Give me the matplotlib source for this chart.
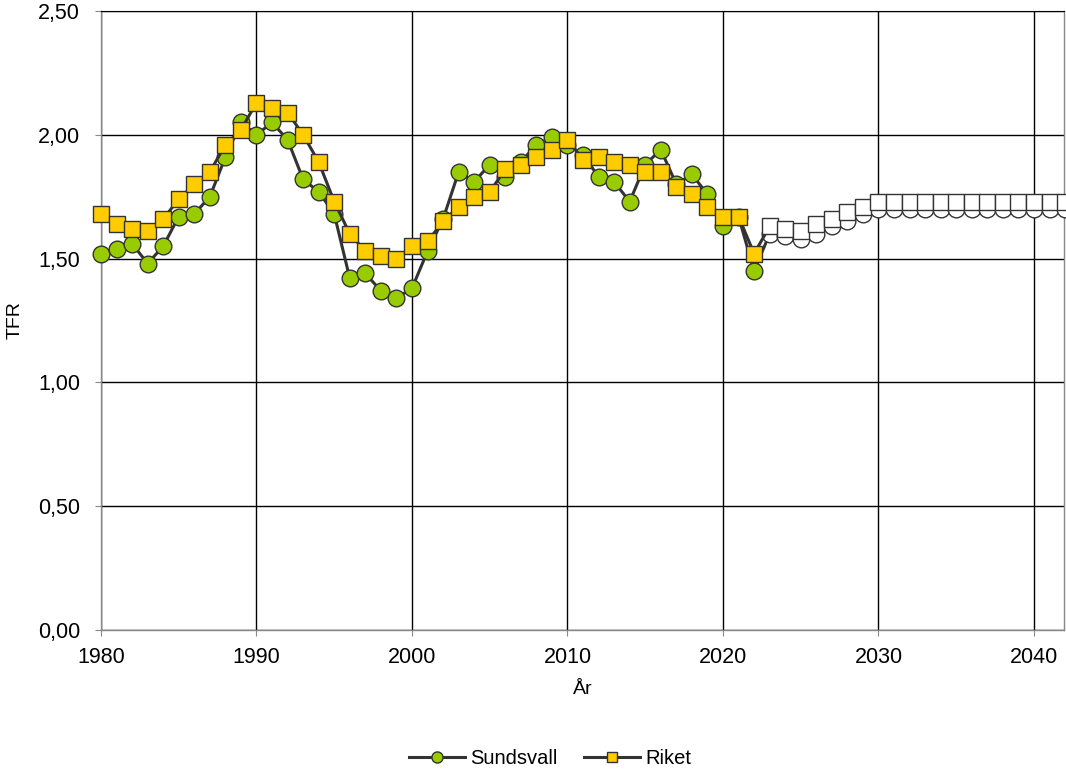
import matplotlib
matplotlib.use("Agg")
import matplotlib.pyplot as plt
from matplotlib.lines import Line2D
from matplotlib.ticker import FuncFormatter, MultipleLocator

# Observed years and forecast years
hist_years = list(range(1980, 2023))
fc_years = list(range(2023, 2043))

sundsvall_hist = [
    1.52, 1.54, 1.56, 1.48, 1.55, 1.67, 1.68, 1.75, 1.91, 2.05,
    2.00, 2.05, 1.98, 1.82, 1.77, 1.68, 1.42, 1.44, 1.37, 1.34,
    1.38, 1.53, 1.66, 1.85, 1.81, 1.88, 1.83, 1.89, 1.96, 1.99,
    1.96, 1.92, 1.83, 1.81, 1.73, 1.88, 1.94, 1.80, 1.84, 1.76,
    1.63, 1.67, 1.45,
]
riket_hist = [
    1.68, 1.64, 1.62, 1.61, 1.66, 1.74, 1.80, 1.85, 1.96, 2.02,
    2.13, 2.11, 2.09, 2.00, 1.89, 1.73, 1.60, 1.53, 1.51, 1.50,
    1.55, 1.57, 1.65, 1.71, 1.75, 1.77, 1.86, 1.88, 1.91, 1.94,
    1.98, 1.90, 1.91, 1.89, 1.88, 1.85, 1.85, 1.79, 1.76, 1.71,
    1.67, 1.67, 1.52,
]
sundsvall_fc = [
    1.60, 1.59, 1.58, 1.60, 1.63, 1.65, 1.68, 1.70, 1.70, 1.70,
    1.70, 1.70, 1.70, 1.70, 1.70, 1.70, 1.70, 1.70, 1.70, 1.70,
]
riket_fc = [
    1.63, 1.62, 1.61, 1.64, 1.66, 1.69, 1.71, 1.73, 1.73, 1.73,
    1.73, 1.73, 1.73, 1.73, 1.73, 1.73, 1.73, 1.73, 1.73, 1.73,
]

GREEN = "#99CC00"
YELLOW = "#FFCC00"
DARK = "#333333"

plt.rcParams["font.family"] = ["Liberation Sans", "DejaVu Sans"]

fig = plt.figure(figsize=(10.66, 7.72), dpi=100)
ax = fig.add_axes([101 / 1066, 142 / 772, 963 / 1066, 619 / 772])

all_years = hist_years + fc_years


def draw_series(hist, fc, marker, color):
    ax.plot(all_years, hist + fc, color=DARK, linewidth=2.2, zorder=3, clip_on=False)
    ax.plot(hist_years, hist, linestyle="none", marker=marker, markersize=12,
            markerfacecolor=color, markeredgecolor=DARK, markeredgewidth=1.0,
            zorder=3, clip_on=False)
    ax.plot(fc_years, fc, linestyle="none", marker=marker, markersize=12,
            markerfacecolor="white", markeredgecolor=DARK, markeredgewidth=1.0,
            zorder=3, clip_on=False)


draw_series(sundsvall_hist, sundsvall_fc, "o", GREEN)
draw_series(riket_hist, riket_fc, "s", YELLOW)

ax.set_xlim(1980, 2041.93)
ax.set_ylim(0, 2.5)
ax.xaxis.set_major_locator(MultipleLocator(10))
ax.yaxis.set_major_locator(MultipleLocator(0.5))
ax.yaxis.set_major_formatter(FuncFormatter(lambda v, p: f"{v:.2f}".replace(".", ",")))

ax.grid(True, color="black", linewidth=1.0)
ax.set_axisbelow(True)
for side in ["left", "bottom", "right"]:
    ax.spines[side].set_color("#888888")
    ax.spines[side].set_linewidth(1.0)
ax.spines["top"].set_color("black")

ax.tick_params(axis="y", direction="out", length=4.5, color="#888888",
               labelsize=15.5, pad=10.5)
ax.tick_params(axis="x", direction="out", length=4, color="#888888",
               labelsize=15.5, pad=8)

fig.text(583 / 1066, 1 - 690 / 772, "År", ha="center", va="center", fontsize=14)
fig.text(15 / 1066, 1 - 320 / 772, "TFR", ha="center", va="center",
         rotation=90, fontsize=14)

handles = [
    Line2D([], [], color=DARK, linewidth=2.2, marker="o", markersize=8,
           markerfacecolor=GREEN, markeredgecolor=DARK, markeredgewidth=1.0),
    Line2D([], [], color=DARK, linewidth=2.2, marker="s", markersize=7.5,
           markerfacecolor=YELLOW, markeredgecolor=DARK, markeredgewidth=1.0),
]
fig.legend(handles, ["Sundsvall", "Riket"], loc="center",
           bbox_to_anchor=(550 / 1066, 1 - 759 / 772), ncol=2, frameon=False,
           fontsize=14.5, handlelength=2.8, handletextpad=0.25, columnspacing=1.3)

fig.savefig("out.png", dpi=100)
